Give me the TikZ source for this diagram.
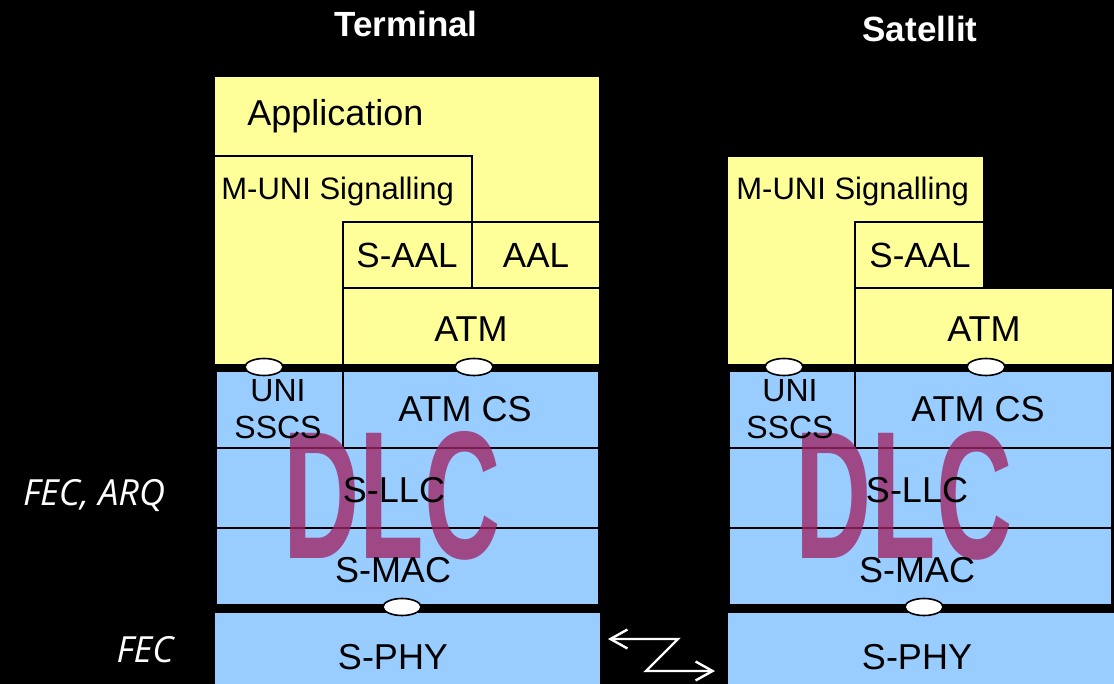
\documentclass[tikz,border=0pt]{standalone}
\usepackage{fontspec}
\setmainfont{Liberation Sans}
\newfontfamily\sidefont{Open Sans}
\usetikzlibrary{arrows.meta,shapes.geometric}
\definecolor{layeryellow}{HTML}{FFFF99}
\definecolor{layerblue}{HTML}{99CCFF}
\definecolor{dlcred}{RGB}{160,35,100}

\begin{document}
\begin{tikzpicture}[x=0.5pt,y=-0.5pt,
    ybox/.style={fill=layeryellow,draw=black,line width=0.75pt},
    bbox/.style={fill=layerblue,draw=black,line width=0.75pt},
    lbl/.style={inner sep=0pt,anchor=base,text=black},
    sap/.style={ellipse,fill=white,draw=black,line width=0.8pt,minimum width=19pt,minimum height=8.5pt,inner sep=0pt},
    dlc/.style={inner sep=0pt,anchor=base,text=dlcred,text opacity=0.78,font=\bfseries\fontsize{91}{91}\selectfont},
    side/.style={inner sep=0pt,anchor=base,text=white,font=\sidefont\itshape\fontsize{18}{18}\selectfont},
    title/.style={inner sep=0pt,anchor=base,text=white,font=\bfseries\fontsize{17.5}{18}\selectfont}]

    % Background
    \useasboundingbox (0,0) rectangle (1114,684);
    \fill[black] (0,0) rectangle (1114,684);

    % Titles
    \node[title] (tterm) at (406,37) {Terminal};
    \node[title] (tsat) at (920,42) {Satellit};

    % Terminal: upper layers
    \draw[ybox] (214,76) rectangle (600,365);
    \draw[ybox] (214,156) rectangle (472,365);
    \draw[ybox] (343,222) rectangle (472,288);
    \draw[ybox] (472,222) rectangle (600,288);
    \draw[ybox] (343,288) rectangle (600,365);

    % Terminal: DLC layers
    \draw[bbox] (216,371) rectangle (343,448);
    \draw[bbox] (343,371) rectangle (599,448);
    \draw[bbox] (216,448) rectangle (599,528);
    \draw[bbox] (216,528) rectangle (599,605);
    \draw[bbox] (214,612) rectangle (601,690);

    % Satellit: upper layers
    \draw[ybox] (727,156) rectangle (984,365);
    \draw[ybox] (855,222) rectangle (984,288);
    \draw[ybox] (855,288) rectangle (1113,365);

    % Satellit: DLC layers
    \draw[bbox] (729,371) rectangle (855,448);
    \draw[bbox] (855,371) rectangle (1112,448);
    \draw[bbox] (729,448) rectangle (1112,528);
    \draw[bbox] (729,528) rectangle (1112,605);
    \draw[bbox] (727,612) rectangle (1120,690);

    % DLC watermark
    \node[dlc] (tdlc) at (392,558) {\scalebox{0.58}[1]{DLC}};
    \node[dlc] (sdlc) at (904,558) {\scalebox{0.58}[1]{DLC}};

    % Terminal labels
    \node[lbl,anchor=base west,font=\fontsize{18}{18}\selectfont] (tapp) at (247,126) {Application};
    \node[lbl,anchor=base west,font=\fontsize{15.5}{16}\selectfont] (tmuni) at (221,200) {M-UNI Signalling};
    \node[lbl,font=\fontsize{17.5}{18}\selectfont] (tsaal) at (407,268) {S-AAL};
    \node[lbl,font=\fontsize{17.5}{18}\selectfont] (taal) at (536,268) {AAL};
    \node[lbl,font=\fontsize{18}{18}\selectfont] (tatm) at (471,342) {ATM};
    \node[lbl,font=\fontsize{16}{16}\selectfont] (tuni) at (278,401) {UNI};
    \node[lbl,font=\fontsize{16}{16}\selectfont] (tsscs) at (278,438) {SSCS};
    \node[lbl,font=\fontsize{18}{18}\selectfont] (tatmcs) at (465,422) {ATM CS};
    \node[lbl,font=\fontsize{18}{18}\selectfont] (tllc) at (394,502) {S-LLC};
    \node[lbl,font=\fontsize{18}{18}\selectfont] (tmac) at (393,582) {S-MAC};
    \node[lbl,font=\fontsize{18}{18}\selectfont] (tphy) at (393,669) {S-PHY};

    % Satellit labels
    \node[lbl,anchor=base west,font=\fontsize{15.5}{16}\selectfont] (smuni) at (736,200) {M-UNI Signalling};
    \node[lbl,font=\fontsize{17.5}{18}\selectfont] (ssaal) at (920,268) {S-AAL};
    \node[lbl,font=\fontsize{18}{18}\selectfont] (satm) at (984,342) {ATM};
    \node[lbl,font=\fontsize{16}{16}\selectfont] (suni) at (790,401) {UNI};
    \node[lbl,font=\fontsize{16}{16}\selectfont] (ssscs) at (790,438) {SSCS};
    \node[lbl,font=\fontsize{18}{18}\selectfont] (satmcs) at (978,422) {ATM CS};
    \node[lbl,font=\fontsize{18}{18}\selectfont] (sllc) at (917,502) {S-LLC};
    \node[lbl,font=\fontsize{18}{18}\selectfont] (smac) at (917,582) {S-MAC};
    \node[lbl,font=\fontsize{18}{18}\selectfont] (sphy) at (917,669) {S-PHY};

    % Service access points
    \node[sap] (tsap1) at (264,367) {};
    \node[sap] (tsap2) at (474,367) {};
    \node[sap] (tsap3) at (402,607) {};
    \node[sap] (ssap1) at (784,367) {};
    \node[sap] (ssap2) at (986,367) {};
    \node[sap] (ssap3) at (924,607) {};

    % Side notes
    \node[side] (fecarq) at (94,505) {FEC, ARQ};
    \node[side] (fec) at (145,662) {FEC};

    % Radio link
    \coordinate (za) at (608,639);
    \coordinate (zb) at (678,639);
    \coordinate (zc) at (646,671);
    \coordinate (zd) at (715,671);
    \draw[white,line width=1.2pt,{Straight Barb[length=8.5pt,width=9.5pt]}-{Straight Barb[length=8.5pt,width=9.5pt]}] (za) -- (zb) -- (zc) -- (zd);

\end{tikzpicture}
\end{document}
